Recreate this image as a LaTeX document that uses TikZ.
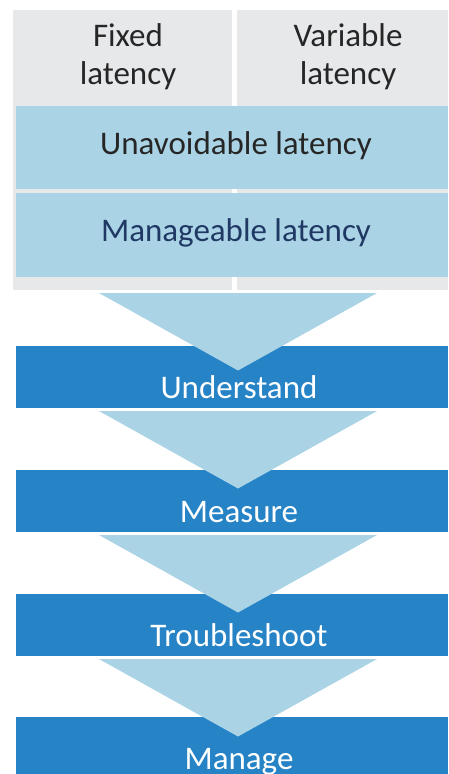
\documentclass[tikz,border=0pt]{standalone}
\usepackage{fontspec}
\setmainfont{Carlito}
\definecolor{panelgrey}{HTML}{E7E8EA}
\definecolor{lightband}{HTML}{AAD4E5}
\definecolor{darkband}{HTML}{2683C6}
\definecolor{navytext}{HTML}{203864}
\tikzset{
  bigtext/.style={font=\fontsize{33}{38}\selectfont, inner sep=0pt, anchor=base},
  headtext/.style={bigtext, align=center, text=black!85},
}

\begin{document}
\begin{tikzpicture}[x=1pt, y=-1pt]
\newcommand{\rgt}{448}
\newcommand{\cx}{236}
\useasboundingbox (0, 0) rectangle (\rgt, 774);
\clip (0, 0) rectangle (\rgt, 774);
% grey columns behind the two latency bands
\fill[panelgrey] (13, 10) rectangle (232, 290);
\fill[panelgrey] (237, 10) rectangle (\rgt, 290);
\node[headtext] (fixed) at (128, 84) {Fixed\\latency};
\node[headtext] (variable) at (348, 84) {Variable\\latency};
\begin{scope}[lightband]
  \fill (16, 106) rectangle (\rgt, 189);
  \fill (16, 193) rectangle (\rgt, 277);
\end{scope}
\node[bigtext, text=black!85] (unavoidable) at (\cx, 154) {Unavoidable latency};
\node[bigtext, text=navytext] (manageable) at (\cx, 241) {Manageable latency};
% steps: band top / triangle top
\foreach \name/\top/\tri in {Understand/346/293, Measure/470/411,
    Troubleshoot/594/535, Manage/717/659} {
  \fill[darkband] (16, \top) rectangle (\rgt, \top+62);
  \fill[lightband] (99, \tri) -- (377, \tri) -- (238, \tri+77.5) -- cycle;
  \node[bigtext, text=white] (\name) at (239, \top+52) {\name};
}
\end{tikzpicture}
\end{document}
